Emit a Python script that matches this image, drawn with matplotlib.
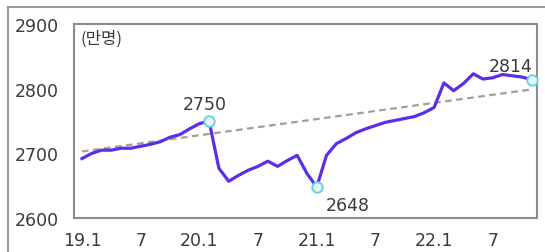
import matplotlib
matplotlib.use("Agg")
import matplotlib.pyplot as plt
from matplotlib.lines import Line2D


OUTPUT_PNG = "out.png"

# monthly employed persons (10k), 2019.1 .. 2022.11
employed = [
    2692, 2700, 2705, 2705, 2708, 2708, 2711, 2714, 2718, 2725, 2729, 2738,
    2746, 2750, 2677, 2657, 2666, 2674, 2680, 2688, 2680, 2689, 2697, 2669,
    2648, 2697, 2715, 2723, 2732, 2738, 2743, 2748, 2751, 2754, 2757, 2763,
    2771, 2809, 2797, 2808, 2823, 2815, 2817, 2822, 2820, 2818, 2814,
]
# pre-covid trend line (start / end month index and value)
trend_idx = [0, 46]
trend_vals = [2703, 2799]

tick_idx = [0, 6, 12, 18, 24, 30, 36, 42]
tick_labels = ["19.1", "7", "20.1", "7", "21.1", "7", "22.1", "7"]
y_ticks = [2600, 2700, 2800, 2900]

# highlighted points: index, label, text offset (points)
highlights = [
    (13, "2750", (-3, 12)),
    (24, "2648", (22, -13)),
    (46, "2814", (-15, 10)),
]

LINE_COLOR = "#5a2fe6"
TREND_COLOR = "#a0a09a"
TEXT_COLOR = "#3a3a3a"
FRAME_COLOR = "#8c8c8c"


def draw_chart():
    fig = plt.figure(figsize=(5.45, 2.53), dpi=100)
    ax = fig.add_axes([0.136, 0.134, 0.849, 0.767])

    x = list(range(len(employed)))
    ax.plot(trend_idx, trend_vals, color=TREND_COLOR, lw=1.6,
            dashes=(3.0, 2.0), zorder=2)
    ax.plot(x, employed, color=LINE_COLOR, lw=2.3, zorder=3,
            solid_joinstyle="round")

    for i, label, offset in highlights:
        ax.plot(i, employed[i], "o", ms=7.5, mfc="#e6f8fb", mec="#6fd0e0",
                mew=1.4, zorder=4, clip_on=False)
        ax.annotate(label, (i, employed[i]), xytext=offset,
                    textcoords="offset points", ha="center", va="center",
                    fontsize=12.5, color=TEXT_COLOR)

    ax.set_xlim(-0.8, 46.5)
    ax.set_ylim(2600, 2900)
    ax.set_xticks(tick_idx)
    ax.set_xticklabels(tick_labels)
    ax.set_yticks(y_ticks)
    ax.tick_params(axis="both", length=0, labelsize=12.5, colors=TEXT_COLOR)
    ax.tick_params(axis="y", pad=11)
    ax.tick_params(axis="x", pad=9)

    for spine in ax.spines.values():
        spine.set_color(FRAME_COLOR)
        spine.set_linewidth(1.5)

    ax.text(0.014, 0.925, "(만명)", transform=ax.transAxes, ha="left",
            va="center", fontsize=12, color=TEXT_COLOR,
            family=["Noto Sans CJK KR", "DejaVu Sans"])

    # outer box of the original figure
    fig.lines.append(Line2D([0.0147, 1.0], [0.968, 0.968],
                            transform=fig.transFigure, color="#9a9a9a", lw=1.5))
    fig.lines.append(Line2D([0.0147, 0.0147], [0.0, 0.968],
                            transform=fig.transFigure, color="#9a9a9a", lw=1.5))

    fig.savefig(OUTPUT_PNG, dpi=100)
    plt.close(fig)


def main():
    draw_chart()


main()
